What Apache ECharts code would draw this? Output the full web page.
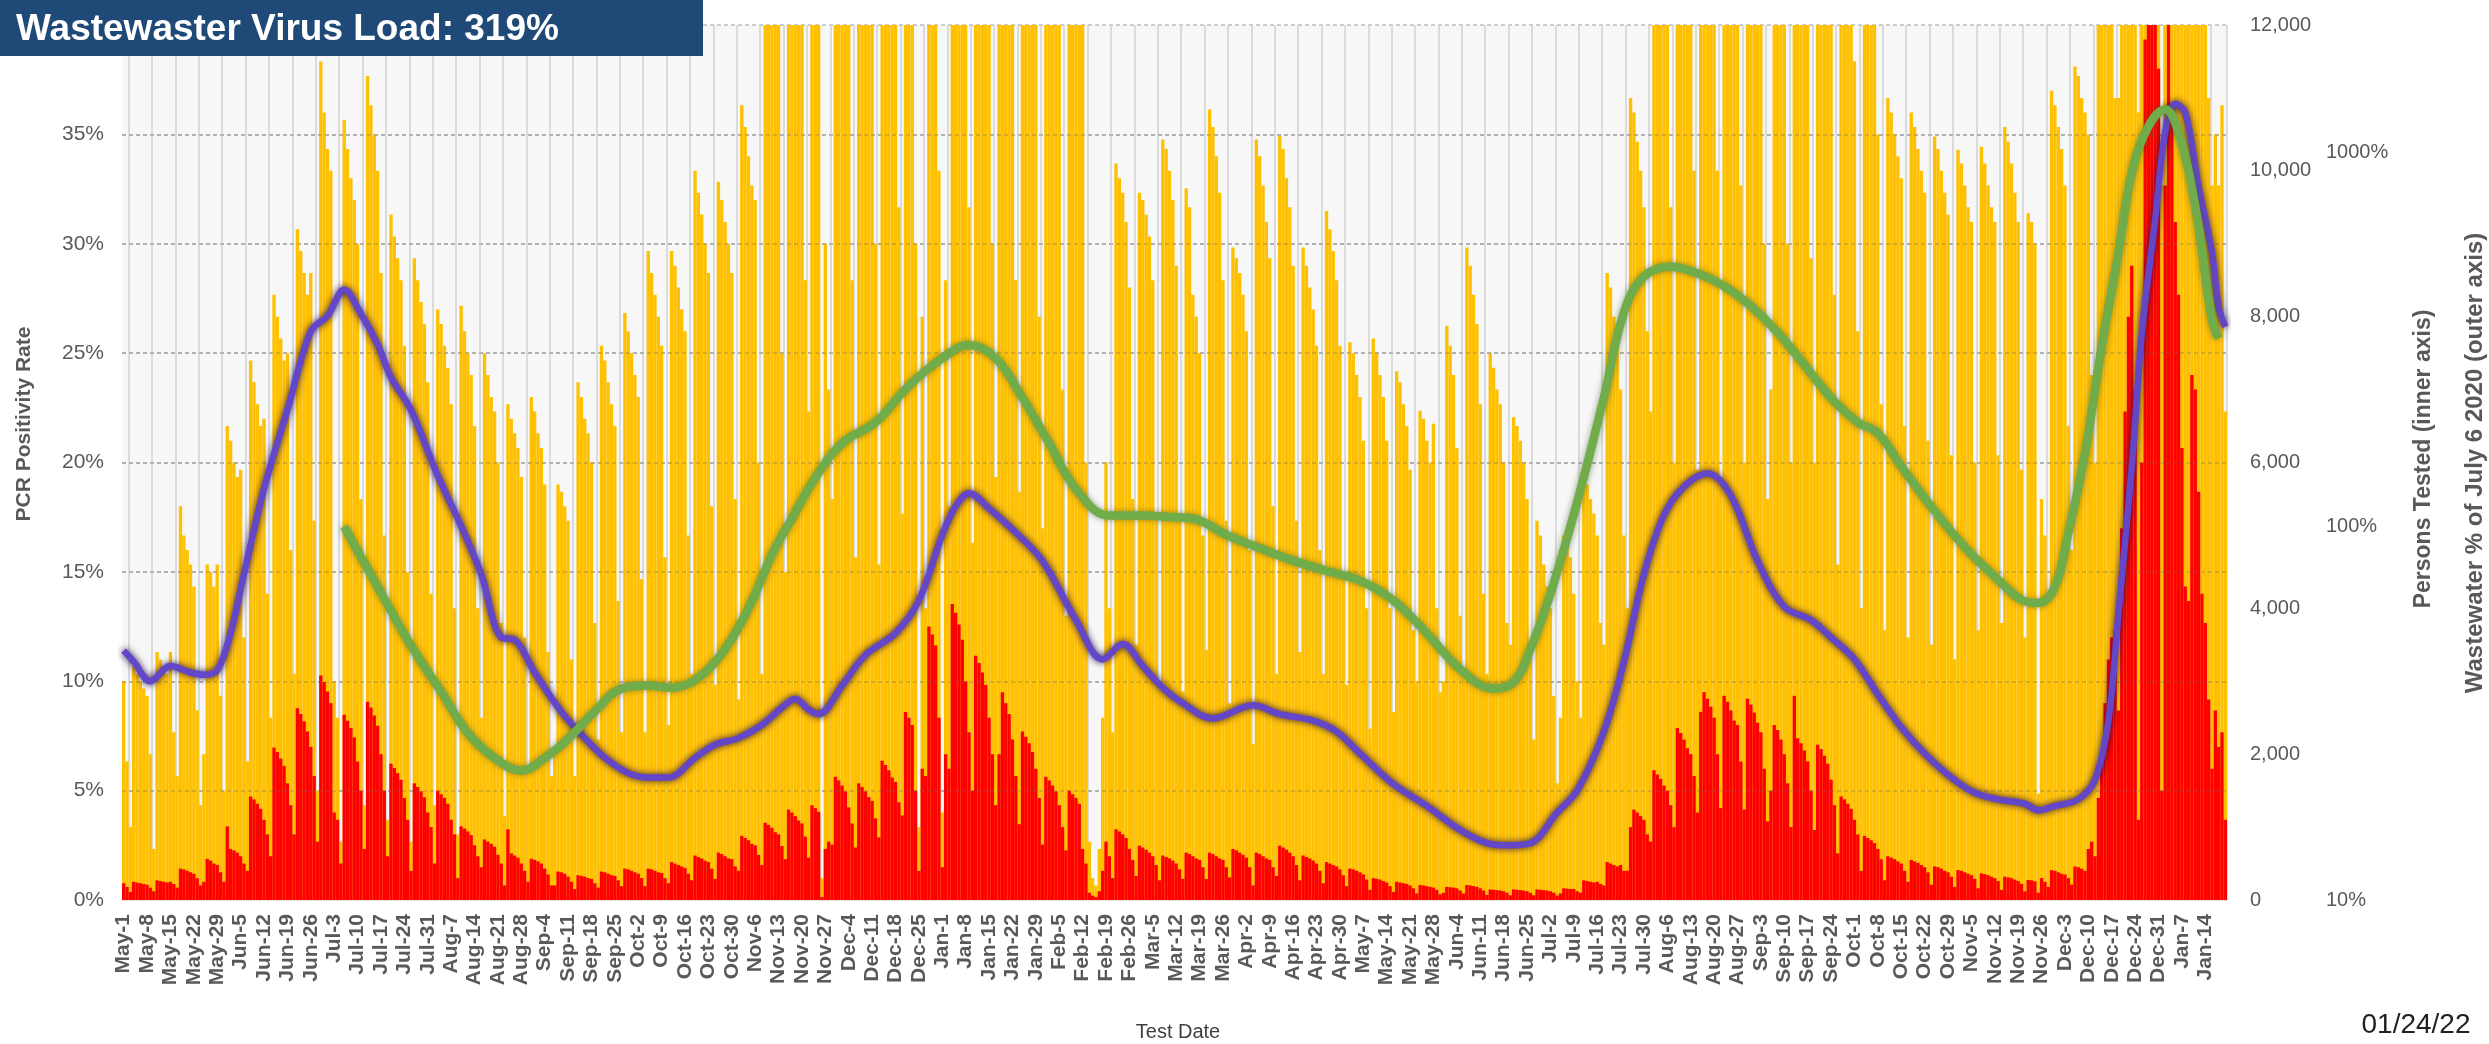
<!DOCTYPE html>
<html>
<head>
<meta charset="utf-8">
<script src="https://cdn.jsdelivr.net/npm/echarts@6/dist/echarts.min.js"></script>
<style>
html,body{margin:0;padding:0;background:#fff;}
#chart{width:2489px;height:1044px;}
</style>
</head>
<body>
<div id="chart"></div>
<script>
// ---------- DATA ----------
const firstDay = '2020-05-01';
const dayCount = 630; // May 1 2020 .. Jan 20 2022 (daily categories)
const monthNames = ['Jan','Feb','Mar','Apr','May','Jun','Jul','Aug','Sep','Oct','Nov','Dec'];

// Persons tested per day (weeks Fri..Thu)
const personsTested = [
3000,1900,1000,3200,3100,3000,2900,
2800,2000,700,3400,3300,3200,3100,
3400,2300,1700,5400,5000,4800,4600,
4300,2600,1300,2000,4600,4500,4300,
4600,2800,1500,6500,6300,6000,5800,
5900,3600,1900,7400,7100,6800,6500,
6600,4200,2500,8300,8000,7700,7400,
7500,4800,3100,9200,8900,8600,8300,
8600,5200,1500,11500,10800,10300,10000,
3000,2500,800,10700,10300,9900,9600,
9000,5500,1300,11300,10900,10500,10000,
8600,5000,1100,9400,9100,8800,8500,
7600,4500,800,8800,8500,8200,7900,
7100,4200,1300,8100,7900,7600,7300,
6800,4000,900,8150,7800,7500,7200,
6500,4000,2500,7500,7200,6900,6700,
6000,3800,1150,6800,6600,6400,6200,
5800,3600,1800,6900,6700,6400,6200,
5700,3400,1700,2000,5700,5600,5400,
5200,3300,1700,7100,6900,6600,6400,
6000,3800,2200,7600,7400,7100,6800,
6500,4100,2300,8050,7800,7500,7200,
6900,4400,2300,8900,8600,8300,8000,
7600,4700,2400,8900,8700,8400,8100,
7800,5000,3100,10000,9700,9400,9000,
8600,5400,2950,9850,9600,9300,9000,
8600,5500,2750,10900,10600,10200,9800,
9600,6000,3100,13000,13500,13300,13000,
12000,7500,4500,16000,16500,16000,15500,
13000,8500,6700,17000,18000,16500,300,
9000,7000,5500,17000,17500,17000,16500,
14000,8500,4700,18000,18500,18000,17500,
14500,9000,4600,18500,19000,18500,18000,
15000,9500,5300,19500,20000,19500,9000,
1000,8000,4000,21000,21500,20500,10000,
1200,8500,5400,22000,22500,21500,21000,
17000,9500,4900,21000,21000,20500,20000,
16500,9000,5800,13000,20000,19500,19000,
15500,8500,5600,19000,18500,18000,17500,
14500,8000,5100,16000,15500,15000,14500,
13000,7000,3900,14500,14000,13500,13000,
12500,6000,800,300,200,700,2500,
6000,4000,2300,10100,9900,9700,9300,
8400,5500,3500,9700,9600,9400,9100,
8500,5300,3000,10430,10300,10000,9600,
8700,5300,2860,9760,9500,8300,8000,
7500,5000,3430,10840,10600,10200,9700,
8500,5200,2700,8950,8800,8600,8300,
7800,4800,2140,10430,10200,9800,9300,
8800,5400,3100,10480,10300,9900,9500,
8700,5200,3400,8950,8700,8400,8100,
7600,4800,3100,9450,9200,8900,8500,
7600,4500,2950,7650,7500,7200,6900,
6300,4000,2350,7700,7500,7200,6900,
6300,4000,2580,7250,7100,6800,6500,
5900,3700,3000,6710,6600,6300,6000,
6530,4000,2850,3000,7875,7600,7200,
6200,3900,3100,8950,8700,8300,7900,
6800,4200,3100,7500,7300,7000,6800,
6000,3800,3500,6620,6500,6300,6000,
5500,3500,2200,5200,5000,4600,4300,
4000,2800,1600,2500,5000,4900,4700,
4200,3000,2500,5800,5700,5500,5300,
5000,3800,3500,8600,8400,8000,7600,
7000,5000,4000,11000,10800,10400,10000,
9500,7800,6700,14000,14500,14200,13800,
13000,9500,6000,15500,15800,15500,15000,
14000,10000,5900,15500,15800,15300,15000,
14000,10000,5800,15000,15300,14800,14500,
13500,9800,6000,14800,15000,14600,14200,
13000,9000,5500,7000,15000,14500,14000,
13000,9000,6000,14000,14200,13800,13400,
12500,8800,6000,13500,13700,13300,12900,
12000,8300,4600,13000,13200,12800,12400,
11500,7800,4000,12600,12800,12400,12000,
10500,6800,3700,11000,10800,10500,10200,
9900,6500,3600,10800,10600,10300,10000,
9700,6300,3500,10470,10300,10000,9700,
9400,6100,3300,10290,10100,9800,9500,
9300,6000,3700,10330,10100,9800,9500,
9300,6100,3800,10600,10400,10100,9700,
9300,5900,3600,9420,9300,9000,1460,
5500,5000,4200,11100,10900,10600,10300,
9800,6500,4800,11430,11300,11000,10800,
10500,7200,6000,13500,14000,14500,15000,
15000,11000,11000,20000,22000,23000,24000,
15000,10800,12500,30000,32000,33000,32000,
28000,9800,20000,33000,32000,30000,28000,
24000,16000,13000,24000,22000,20000,18000,
13000,11000,9800,10500,9800,10900,6700
];

// Positive results per day (weeks Fri..Thu)
const positives = [
230,180,110,250,240,230,220,
210,170,120,270,260,250,240,
250,220,170,430,420,400,380,
360,300,200,250,565,540,500,
480,380,250,1010,700,680,650,
600,500,400,1420,1380,1320,1250,
1100,900,600,2090,2030,1940,1840,
1600,1300,900,2630,2550,2450,2310,
2100,1700,800,3080,2990,2860,2700,
1200,1100,500,2540,2460,2360,2230,
1900,1500,700,2720,2640,2530,2390,
2000,1500,600,1870,1810,1740,1650,
1400,1100,400,1600,1550,1490,1410,
1200,1000,500,1500,1450,1400,1320,
1100,900,300,1010,980,940,890,
750,600,450,830,800,770,730,
620,500,200,970,640,610,580,
500,400,250,565,550,530,500,
430,350,200,200,390,380,360,
320,250,150,340,330,320,300,
290,230,170,390,380,360,340,
330,270,190,430,420,400,380,
360,300,190,430,420,400,380,
370,300,230,520,500,480,460,
440,360,270,610,590,570,540,
520,430,290,650,630,600,570,
560,460,400,880,850,820,770,
750,620,480,1060,1030,990,930,
900,740,560,1240,1200,1150,1090,
1050,870,580,1300,1260,1210,40,
700,800,760,1690,1640,1570,1490,
1270,1050,720,1600,1550,1490,1410,
1360,1120,860,1910,1850,1780,1680,
1620,1340,1160,2580,2500,2400,1500,
400,1800,1700,3750,3640,3490,2500,
450,2000,1800,4060,3940,3780,3570,
3000,2300,1500,3350,3250,3120,2950,
2500,2000,1300,2000,2850,2700,2550,
2200,1700,1040,2310,2240,2150,2030,
1800,1400,760,1690,1640,1570,1490,
1300,1000,680,1500,1450,1400,1320,
700,500,100,60,40,120,400,
800,600,300,970,940,900,850,
700,550,330,745,720,690,650,
600,480,270,610,590,570,540,
500,420,290,650,630,600,570,
550,450,290,650,630,600,570,
550,450,310,700,680,650,620,
580,450,200,650,630,600,570,
550,450,330,745,720,690,650,
600,480,270,610,590,570,540,
500,400,230,520,500,480,460,
420,340,190,430,420,400,380,
350,280,140,300,290,280,260,
240,190,110,250,240,230,220,
200,160,90,205,200,190,180,
170,140,80,100,180,175,170,
160,130,90,205,200,190,180,
160,130,70,145,140,135,130,
120,100,65,145,140,135,130,
120,100,65,145,140,135,130,
120,100,60,90,160,155,150,
150,120,100,270,260,250,240,
250,220,200,520,500,480,460,
480,400,400,1000,1240,1200,1150,
1100,900,800,1780,1720,1660,1570,
1500,1300,1000,2360,2290,2200,2080,
2000,1700,1200,2580,2850,2760,2650,
2500,2000,1260,2800,2720,2600,2460,
2400,1900,1240,2760,2680,2570,2430,
2300,1800,1080,1500,2400,2330,2200,
2000,1600,1000,2800,2220,2150,2050,
1900,1500,960,2130,2070,1980,1870,
1650,1300,640,1420,1380,1320,1250,
1100,900,400,880,850,820,780,
700,560,270,600,580,560,530,
500,400,250,550,530,510,480,
450,380,210,460,450,430,400,
380,320,180,410,400,380,360,
340,290,160,365,355,340,320,
300,260,140,320,310,300,280,
260,220,120,275,270,255,100,
300,250,180,410,400,380,360,
350,300,210,460,450,430,400,
700,800,600,1400,2000,2700,3300,
3600,3700,2600,5100,6700,8000,8700,
7000,1100,6000,11800,13000,13500,12500,
11400,1500,9800,12000,10900,9300,8300,
6200,4300,4100,7200,7000,5600,4200,
3800,2750,1800,2600,2100,2300,1100
];

// PCR positivity rate (%), read at these dates
const rateDates = [
'2020-05-01','2020-05-04','2020-05-09','2020-05-15','2020-05-21','2020-05-25','2020-05-29','2020-06-02','2020-06-06','2020-06-12',
'2020-06-19','2020-06-26','2020-07-01','2020-07-06','2020-07-11','2020-07-16','2020-07-20','2020-07-26','2020-08-03','2020-08-10',
'2020-08-16','2020-08-22','2020-08-26','2020-09-01','2020-09-09','2020-09-16','2020-09-22','2020-09-29','2020-10-05','2020-10-11',
'2020-10-19','2020-10-25','2020-11-01','2020-11-08','2020-11-14','2020-11-18','2020-11-22','2020-11-25','2020-12-02','2020-12-09',
'2020-12-18','2020-12-25','2021-01-01','2021-01-05','2021-01-09','2021-01-15','2021-01-23','2021-01-31','2021-02-10','2021-02-18',
'2021-02-24','2021-03-02','2021-03-08','2021-03-13','2021-03-23','2021-04-04','2021-04-12','2021-04-22','2021-04-29','2021-05-06',
'2021-05-16','2021-05-26','2021-06-05','2021-06-13','2021-06-19','2021-06-26','2021-07-04','2021-07-10','2021-07-18','2021-07-24',
'2021-07-30','2021-08-05','2021-08-11','2021-08-18','2021-08-25','2021-09-02','2021-09-10','2021-09-18','2021-09-24','2021-10-01',
'2021-10-08','2021-10-15','2021-10-22','2021-10-30','2021-11-06','2021-11-13','2021-11-21','2021-11-25','2021-11-30','2021-12-07',
'2021-12-12','2021-12-16','2021-12-19','2021-12-23','2021-12-26','2021-12-30','2022-01-02','2022-01-05','2022-01-08','2022-01-12',
'2022-01-16','2022-01-18','2022-01-20'
];
const rateValues = [
11.4,10.9,10.0,10.7,10.4,10.3,10.5,12.2,14.9,18.8,
22.4,26.0,26.7,27.9,26.8,25.4,23.9,22.4,19.4,17.1,
14.9,12.0,11.9,10.4,8.6,7.4,6.5,5.8,5.6,5.6,
6.5,7.1,7.4,8.0,8.8,9.2,8.7,8.5,9.8,11.2,
12.2,13.7,16.7,18.0,18.6,17.9,16.8,15.5,12.8,11.0,
11.7,10.7,9.7,9.1,8.3,8.9,8.5,8.2,7.7,6.7,
5.3,4.3,3.2,2.6,2.5,2.6,4.0,5.0,7.7,10.9,
14.9,17.6,18.9,19.5,18.5,15.5,13.4,12.8,12.0,11.0,
9.4,7.9,6.7,5.6,4.9,4.6,4.4,4.1,4.3,4.6,
5.5,8.2,13.1,19.8,25.9,31.1,35.1,36.4,36.0,32.6,
29.6,27.1,26.2
];

// Wastewater virus load, % of July 6 2020
const wasteDates = [
'2020-07-06','2020-07-16','2020-07-26','2020-08-05','2020-08-12','2020-08-20','2020-08-28','2020-09-04','2020-09-11','2020-09-19',
'2020-09-27','2020-10-05','2020-10-12','2020-10-18','2020-10-24','2020-10-30','2020-11-05','2020-11-11','2020-11-17','2020-11-24',
'2020-12-02','2020-12-12','2020-12-22','2021-01-01','2021-01-09','2021-01-17','2021-01-25','2021-02-02','2021-02-10','2021-02-20',
'2021-03-02','2021-03-10','2021-03-17','2021-03-27','2021-04-06','2021-04-16','2021-04-26','2021-05-06','2021-05-16','2021-05-26',
'2021-06-05','2021-06-15','2021-06-21','2021-06-26','2021-07-02','2021-07-10','2021-07-18','2021-07-24','2021-07-30','2021-08-07',
'2021-08-15','2021-08-23','2021-08-31','2021-09-08','2021-09-16','2021-09-24','2021-10-02','2021-10-08','2021-10-15','2021-10-24',
'2021-11-03','2021-11-13','2021-11-20','2021-11-25','2021-11-30','2021-12-04','2021-12-09','2021-12-14','2021-12-19','2021-12-23',
'2021-12-28','2022-01-02','2022-01-06','2022-01-11','2022-01-16','2022-01-18'
];
const wasteValues = [
100,69,48,35,28,24,22.2,24,27,32,
36.8,37.5,37,38.3,42.4,50,63,84,105,135,
167,190,238,282,306,282,221,167,126,107,
107,106,105,95,87.5,81,76,71.6,63.4,51.8,
41.5,36.8,38.3,47,66,116,221,374,467,496,
476,440,389,331,271,221,190,178,145,113,
88,72,63.6,62.4,69,96,157,303,539,883,
1178,1306,1132,720,358,319
];

const leftTicks = {min: 0, max: 40, step: 5};
const innerTicks = {min: 0, max: 12000, step: 2000};
const outerTicks = {min: 10, max: 2200};

const titleText = 'Wastewaster Virus Load: 319%';
const stampText = '01/24/22';

// ---------- BUILD ----------
const dates = [];
for (let i = 0; i < dayCount; i++) {
  const d = new Date(Date.UTC(2020, 4, 1 + i));
  dates.push(d.toISOString().slice(0, 10));
}
function shortLabel(iso) {
  const p = iso.split('-');
  return monthNames[parseInt(p[1], 10) - 1] + '-' + parseInt(p[2], 10);
}
const rateData = rateDates.map((d, i) => [d, rateValues[i]]);
const wasteData = wasteDates.map((d, i) => [d, wasteValues[i]]);

// left-axis gridline levels expressed on the inner (persons) axis, so the dashes also show over the bars
const gridOverlay = [];
for (let v = leftTicks.step; v < leftTicks.max; v += leftTicks.step) {
  gridOverlay.push({yAxis: v / leftTicks.max * innerTicks.max});
}

const FONT = 'Liberation Sans, Arial, sans-serif';
const GRAY = '#595959';

const chart = echarts.init(document.getElementById('chart'), null, {renderer: 'canvas'});
chart.setOption({
  animation: false,
  backgroundColor: '#ffffff',
  textStyle: {fontFamily: FONT},
  grid: {left: 122, right: 262, top: 25, bottom: 144, show: true, backgroundColor: '#f7f7f7', borderWidth: 0},
  xAxis: {
    type: 'category',
    data: dates,
    boundaryGap: true,
    axisLine: {show: true, lineStyle: {color: '#e3e3e3', width: 1}},
    axisTick: {show: false},
    axisLabel: {
      interval: (idx) => idx % 7 === 0,
      rotate: 90, margin: 14,
      fontSize: 21, fontWeight: 'bold', color: GRAY, fontFamily: FONT,
      formatter: (v) => shortLabel(v)
    },
    splitLine: {show: true, interval: (idx) => idx % 7 === 2, lineStyle: {color: '#d2d2d2', width: 1.5}}
  },
  yAxis: [
    {
      type: 'value', min: leftTicks.min, max: leftTicks.max, interval: leftTicks.step,
      position: 'left',
      axisLine: {show: false}, axisTick: {show: false},
      axisLabel: {formatter: '{value}%', fontSize: 21, color: GRAY, margin: 18, showMaxLabel: false, fontFamily: FONT},
      splitLine: {show: true, lineStyle: {color: '#bdbdbd', width: 1.5, type: [4, 3]}}
    },
    {
      type: 'value', min: innerTicks.min, max: innerTicks.max, interval: innerTicks.step,
      position: 'right',
      axisLine: {show: false}, axisTick: {show: false},
      axisLabel: {fontSize: 20, color: GRAY, margin: 23, fontFamily: FONT},
      splitLine: {show: false}
    },
    {
      type: 'log', logBase: 10, min: outerTicks.min, max: outerTicks.max,
      position: 'right', offset: 97,
      axisLine: {show: false}, axisTick: {show: false},
      axisLabel: {fontSize: 20, color: GRAY, margin: 2, showMaxLabel: false, fontFamily: FONT,
        formatter: (v) => Math.round(v) + '%'},
      splitLine: {show: false}
    }
  ],
  series: [
    {
      name: 'Persons Tested', type: 'bar', yAxisIndex: 1, data: personsTested,
      barCategoryGap: 0, barGap: '-100%', itemStyle: {color: '#FFC000'}, clip: true,
      markLine: {silent: true, symbol: 'none', label: {show: false},
        lineStyle: {color: 'rgba(110,110,110,0.35)', width: 1.5, type: [4, 3]}, data: gridOverlay}
    },
    {
      name: 'Positives', type: 'bar', yAxisIndex: 1, data: positives,
      barCategoryGap: 0, barGap: '-100%', itemStyle: {color: '#FF0000'}, clip: true
    },
    {
      name: 'PCR Positivity Rate', type: 'line', yAxisIndex: 0, data: rateData,
      symbol: 'none', smooth: 0.35, z: 5,
      lineStyle: {color: '#6446C8', width: 6.5, shadowColor: 'rgba(35,15,70,0.95)', shadowBlur: 7}
    },
    {
      name: 'Wastewater', type: 'line', yAxisIndex: 2, data: wasteData,
      symbol: 'none', smooth: 0.4, z: 6,
      lineStyle: {color: '#70AC4A', width: 8.5, shadowColor: 'rgba(60,80,30,0.55)', shadowBlur: 6}
    }
  ],
  graphic: [
    {type: 'rect', left: 0, top: 0, shape: {width: 703, height: 56}, style: {fill: '#1F4A78'}, z: 100},
    {type: 'text', x: 16, y: 30, z: 101,
      style: {text: titleText, fill: '#ffffff', font: 'bold 37px ' + FONT, verticalAlign: 'middle', align: 'left'}},
    {type: 'text', x: 24, y: 424, rotation: Math.PI / 2, z: 50,
      style: {text: 'PCR Positivity Rate', fill: GRAY, font: 'bold 21px ' + FONT, align: 'center', verticalAlign: 'middle'}},
    {type: 'text', x: 2424, y: 459, rotation: Math.PI / 2, z: 50,
      style: {text: 'Persons Tested (inner axis)', fill: GRAY, font: 'bold 23px ' + FONT, align: 'center', verticalAlign: 'middle'}},
    {type: 'text', x: 2475, y: 463, rotation: Math.PI / 2, z: 50,
      style: {text: 'Wastewater % of July 6 2020 (outer axis)', fill: GRAY, font: 'bold 24px ' + FONT, align: 'center', verticalAlign: 'middle'}},
    {type: 'text', x: 1178, y: 1032, z: 50,
      style: {text: 'Test Date', fill: '#404040', font: '20px ' + FONT, align: 'center', verticalAlign: 'middle'}},
    {type: 'text', x: 2416, y: 1025, z: 50,
      style: {text: stampText, fill: '#222222', font: '28px ' + FONT, align: 'center', verticalAlign: 'middle'}}
  ]
});
</script>
</body>
</html>
